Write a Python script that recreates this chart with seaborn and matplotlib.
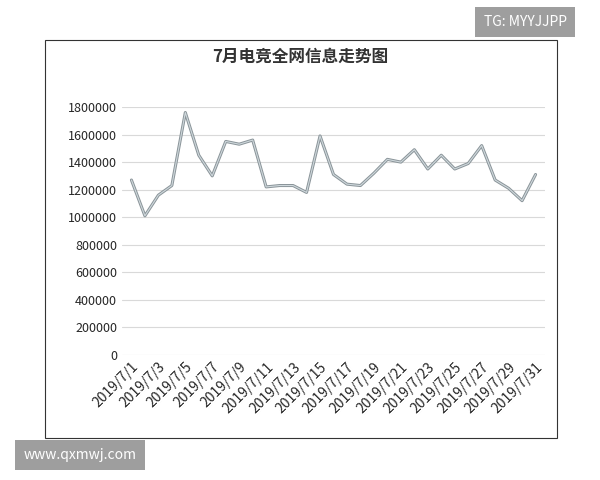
import matplotlib
matplotlib.use("Agg")
import matplotlib.pyplot as plt
import seaborn as sns
import pandas as pd
from matplotlib.patches import Rectangle

days = [f"2019/7/{d}" for d in range(1, 32)]
values = [1270000, 1010000, 1160000, 1230000, 1760000, 1450000, 1300000, 1550000,
          1530000, 1560000, 1220000, 1230000, 1230000, 1180000, 1590000, 1310000,
          1240000, 1230000, 1320000, 1420000, 1400000, 1490000, 1350000, 1450000,
          1350000, 1390000, 1520000, 1270000, 1210000, 1120000, 1310000]
yticks = list(range(0, 1800001, 200000))

sns.set_style("white")
plt.rcParams['font.family'] = ['Noto Sans CJK SC', 'DejaVu Sans']

df = pd.DataFrame({"day": range(31), "v": values})
fig = plt.figure(figsize=(6, 4.8), dpi=100)
fig.patches.append(Rectangle((45/600, 1-438/480), 512/600, 398/480, transform=fig.transFigure,
                             fill=False, edgecolor="#333333", linewidth=0.8))
ax = fig.add_axes([122/600, 1-355/480, 423/600, 248/480])
sns.lineplot(data=df, x="day", y="v", ax=ax, color="#8a9499", linewidth=2.2)
sns.lineplot(data=df, x="day", y="v", ax=ax, color="#cfd8dc", linewidth=0.8)
ax.set_ylim(0, 1800000)
ax.set_xlim(-0.7, 30.7)
ax.set_yticks(yticks)
ax.set_yticklabels([str(t) for t in yticks], fontsize=9)
ax.set_xticks(range(0, 31, 2))
ax.set_xticklabels(days[::2], rotation=45, ha="right", rotation_mode="anchor", fontsize=10)
ax.grid(axis="y", color="#d9d9d9", linewidth=0.8)
for s in ax.spines.values():
    s.set_visible(False)
ax.tick_params(length=0)
ax.set_xlabel("")
ax.set_ylabel("")
fig.text(0.5, 1-57/480, "7月电竞全网信息走势图", ha="center", va="center", fontsize=12, fontweight="bold", color="#333333")
fig.text(525/600, 1-22/480, "TG: MYYJJPP", ha="center", va="center", fontsize=10, color="white",
         bbox=dict(facecolor="#9e9e9e", edgecolor="none", pad=6))
fig.text(80/600, 1-455/480, "www.qxmwj.com", ha="center", va="center", fontsize=10, color="white",
         bbox=dict(facecolor="#9e9e9e", edgecolor="none", pad=6))
fig.savefig("out.png", dpi=100)
